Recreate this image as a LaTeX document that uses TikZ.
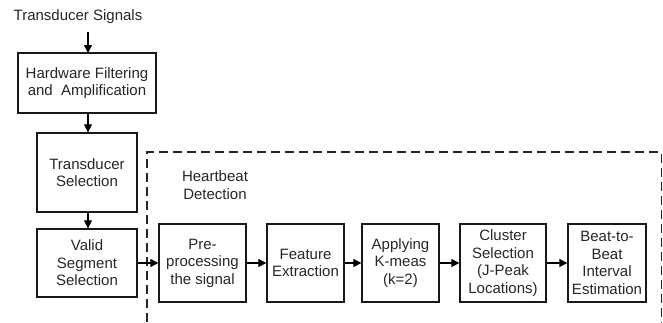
\documentclass[tikz,border=0pt]{standalone}
\usepackage{fontspec}
\setmainfont{Liberation Sans}
\usetikzlibrary{arrows.meta}
\begin{document}
\begin{tikzpicture}[x=1bp,y=-1bp,
  every node/.style={font=\fontsize{15bp}{17.5bp}\selectfont, text=black!85},
  blk/.style={draw=black!90, line width=1.3bp, align=center, inner sep=0pt},
  arr/.style={draw=black, line width=1.2bp, -{Triangle[length=8bp,width=8bp]}},
  dash box/.style={draw=black!85, line width=1.5bp, dash pattern=on 9bp off 5bp}]
\useasboundingbox (0,0) rectangle (663,322);
\node (sig) at (78,17) {Transducer Signals};
\node[blk, minimum width=138bp, minimum height=60bp] (hw) at (87,83) {Hardware Filtering\\and\ \ Amplification};
\node[blk, minimum width=100bp, minimum height=79bp] (ts) at (87,172.5) {Transducer\\Selection};
\node[blk, minimum width=100bp, minimum height=68bp] (vs) at (87,263) {Valid\\Segment\\Selection};
\node[blk, minimum width=87bp, minimum height=78bp] (pre) at (202.5,263) {Pre-\\processing\\the signal};
\node[blk, minimum width=77bp, minimum height=78bp] (fe) at (305.5,263) {Feature\\Extraction};
\node[blk, minimum width=77bp, minimum height=78bp] (km) at (400.5,263) {Applying\\K-meas\\(k=2)};
\node[blk, minimum width=86bp, minimum height=78bp] (cs) at (503,263) {Cluster\\Selection\\(J-Peak\\Locations)};
\node[blk, minimum width=78bp, minimum height=78bp] (bb) at (607,263) {Beat-to-\\Beat\\Interval\\Estimation};
\node[align=center] (hd) at (215,185) {Heartbeat\\Detection};
\coordinate (d1) at (147,322);
\coordinate (d2) at (147,152);
\coordinate (d3) at (661.5,152);
\coordinate (d4) at (661.5,322);
\draw[dash box] (d1) -- (d2) -- (d3) -- (d4);
\coordinate (s0) at (88,32);
\draw[arr] (s0) -- (88,53);
\draw[arr] (hw.south -| 88,0) -- (ts.north -| 88,0);
\draw[arr] (ts.south -| 88,0) -- (vs.north -| 88,0);
\draw[arr] (vs.east) -- (pre.west);
\draw[arr] (pre) -- (fe);
\draw[arr] (fe) -- (km);
\draw[arr] (km) -- (cs);
\draw[arr] (cs) -- (bb);
\end{tikzpicture}
\end{document}
